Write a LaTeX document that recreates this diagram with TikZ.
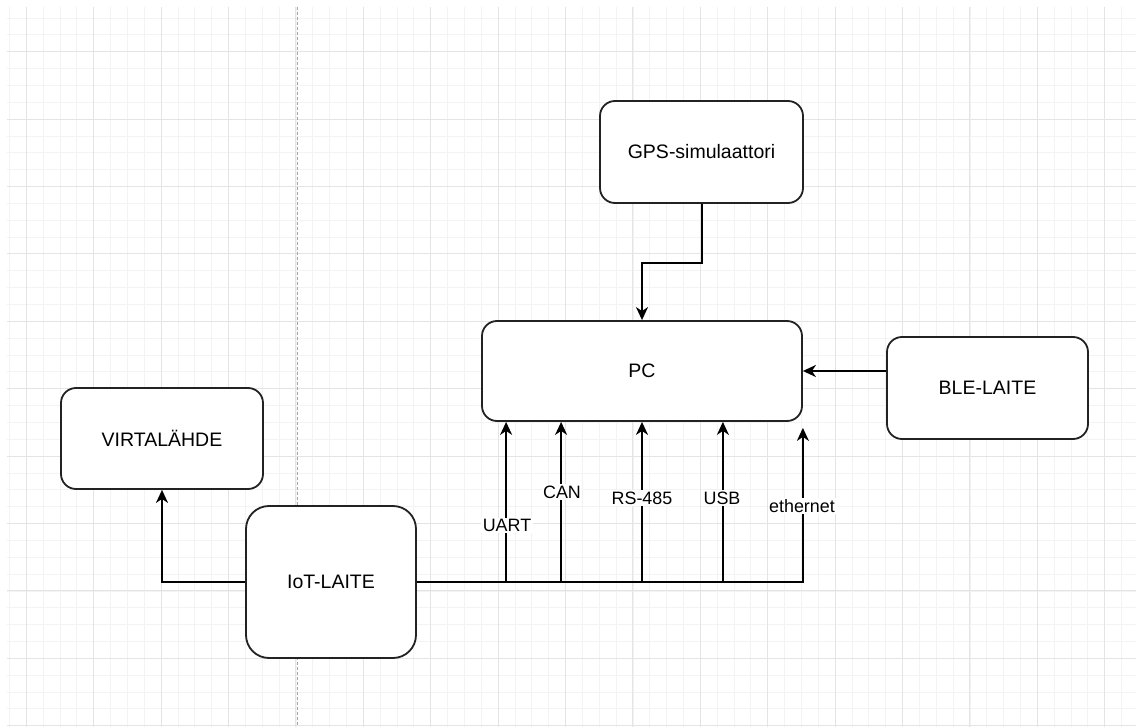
\documentclass[tikz,border=0pt]{standalone}
\usepackage{fontspec}
\setmainfont{Liberation Sans}
\usepackage{xcolor}
\usetikzlibrary{positioning, arrows.meta}

\definecolor{minorgrid}{HTML}{F3F3F3}
\definecolor{majorgrid}{HTML}{E4E4E4}
\definecolor{boxline}{HTML}{222222}

\tikzset{
  box/.style={draw=boxline, fill=white, line width=1.8pt, rounded corners=15pt,
    minimum width=203pt, minimum height=102pt, inner sep=0pt,
    font=\fontsize{19.5}{23}\selectfont},
  arr/.style={-{Stealth[length=13pt, width=12pt, inset=4pt]}, line width=2pt},
  lbl/.style={fill=white, inner sep=1.5pt, font=\fontsize{17.9}{21}\selectfont}
}

\begin{document}
\begin{tikzpicture}[x=1pt, y=-1pt]
  \useasboundingbox[fill=white] (0,0) rectangle (1136,727);
  % grid
  \foreach \i in {0,...,66}
    \draw[minorgrid, line width=0.8pt] ({9.45+16.85*\i},7) -- ({9.45+16.85*\i},727);
  \foreach \i in {0,...,42}
    \draw[minorgrid, line width=0.8pt] (7,{18+16.85*\i}) -- (1136,{18+16.85*\i});
  \foreach \i in {0,...,16}
    \draw[majorgrid, line width=0.9pt] ({26.3+67.4*\i},7) -- ({26.3+67.4*\i},727);
  \foreach \i in {0,...,10}
    \draw[majorgrid, line width=0.9pt] (7,{51.7+67.4*\i}) -- (1136,{51.7+67.4*\i});
  \draw[gray!70, line width=0.8pt, dash pattern=on 3pt off 2pt] (297,7) -- (297,727);

  % boxes
  \node[box] (gps) at (701.5,152) {GPS-simulaattori};
  \node[box, minimum width=320pt, minimum height=100pt] (pc) at (642,371) {PC};
  \node[box, minimum width=201pt] (ble) at (987.5,388) {BLE-LAITE};
  \node[box, minimum width=202pt, minimum height=101pt] (virta) at (162,438.5) {VIRTALÄHDE};
  \node[box, minimum width=170pt, minimum height=152pt, rounded corners=23pt] (iot) at (331,582) {IoT-LAITE};

  % connectors
  \draw[arr] (gps.south) -- ++(0,59) -| (pc.north);
  \draw[arr] (ble.west |- pc.east) -- (pc.east);
  \draw[arr] (iot.west) -| (virta.south);
  \draw[arr] (iot.east) -| ([xshift=25pt]pc.south west);
  \draw[arr] (iot.east) -| ([xshift=80pt]pc.south west);
  \draw[arr] (iot.east) -| (pc.south);
  \draw[arr] (iot.east) -| ([xshift=-80pt]pc.south east);
  \draw[arr] (iot.east) -| ([yshift=-6pt]pc.south east);

  % labels
  \node[lbl] (uart) at (507,525.3) {UART};
  \node[lbl] (can) at (562,492) {CAN};
  \node[lbl] (rs) at (642,498) {RS-485};
  \node[lbl] (usb) at (722,498) {USB};
  \node[lbl] (eth) at (802,505.7) {ethernet};
\end{tikzpicture}
\end{document}
